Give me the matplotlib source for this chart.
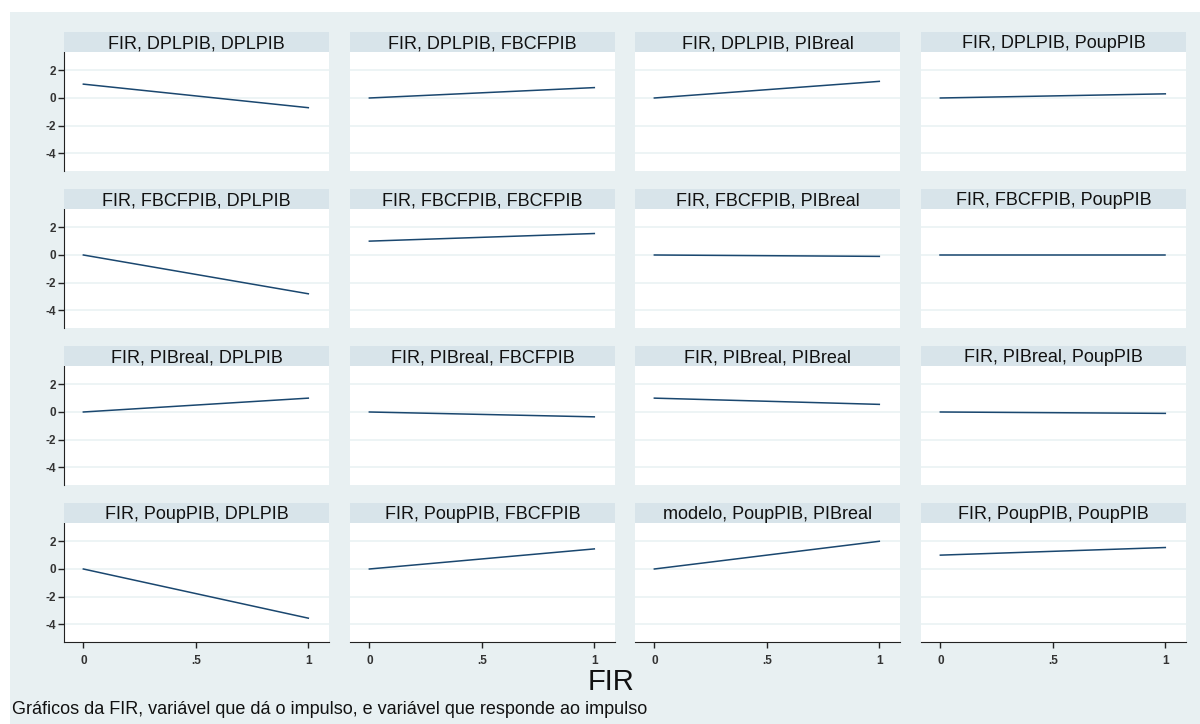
import matplotlib.pyplot as plt
from matplotlib.patches import Rectangle

plt.rcParams['font.family'] = ['Liberation Sans', 'DejaVu Sans']

# variables in the VAR, order used for rows (impulse) and columns (response)
variables = ["DPLPIB", "FBCFPIB", "PIBreal", "PoupPIB"]
steps = [0, 1]

# impulse responses at step 0 and step 1, one row per impulse variable
irf_dplpib = [[1.0, -0.7], [0.0, 0.75], [0.0, 1.2], [0.0, 0.3]]
irf_fbcfpib = [[0.0, -2.8], [1.0, 1.55], [0.0, -0.1], [0.0, 0.0]]
irf_pibreal = [[0.0, 1.0], [0.0, -0.35], [1.0, 0.55], [0.0, -0.1]]
irf_poupppib = [[0.0, -3.55], [0.0, 1.45], [0.0, 2.0], [1.0, 1.55]]
responses = [irf_dplpib, irf_fbcfpib, irf_pibreal, irf_poupppib]

# panel names; one graph was saved under a different irf name
irfnames = [["FIR"] * 4 for _ in range(4)]
irfnames[3][2] = "modelo"

yticks = [2, 0, -2, -4]
yticklabels = ["2", "0", "-2", "-4"]
xticks = [0, 0.5, 1]
xticklabels = ["0", ".5", "1"]

W, H = 1200, 724
bg = "#e8f0f2"
strip = "#d8e4ea"
line_col = "#1a476f"

fig = plt.figure(figsize=(W / 100, H / 100), dpi=100)
fig.patch.set_facecolor("white")
fig.patches.append(Rectangle((10 / W, 0), 1 - 10 / W, 1 - 12 / H,
                             transform=fig.transFigure, facecolor=bg,
                             edgecolor="none", zorder=-10))

col_left = [64, 350, 635, 921]
row_top = [52, 209, 366, 523]
pw, ph, sh = 265, 119, 20

for i in range(4):
    for j in range(4):
        x0, y0 = col_left[j], row_top[i]
        ax = fig.add_axes([x0 / W, 1 - (y0 + ph) / H, pw / W, ph / H])
        ax.set_facecolor("white")
        ax.plot(steps, responses[i][j], color=line_col, lw=1.1)
        ax.set_xlim(-0.086, 1.092)
        ax.set_ylim(-5.27, 3.32)
        ax.set_yticks(yticks)
        ax.set_xticks(xticks)
        for y in yticks:
            ax.axhline(y, color="#eaf2f3", lw=1.2, zorder=0)
        for s in ax.spines.values():
            s.set_visible(False)
        if j == 0:
            ax.spines["left"].set_visible(True)
            ax.spines["left"].set_color("#222222")
            ax.set_yticklabels(yticklabels, fontsize=8.5, fontweight="bold", color="#333333")
            ax.tick_params(axis="y", length=4, width=1, color="#222222", pad=2)
        else:
            ax.tick_params(axis="y", left=False, labelleft=False)
        if i == 3:
            ax.spines["bottom"].set_visible(True)
            ax.spines["bottom"].set_color("#222222")
            ax.set_xticklabels(xticklabels, fontsize=8.5, fontweight="bold", color="#333333")
            ax.tick_params(axis="x", length=4, width=1, color="#222222", pad=5)
        else:
            ax.tick_params(axis="x", bottom=False, labelbottom=False)

        # title strip above each panel
        sax = fig.add_axes([x0 / W, 1 - y0 / H, pw / W, sh / H])
        sax.set_facecolor(strip)
        sax.set_xticks([])
        sax.set_yticks([])
        for s in sax.spines.values():
            s.set_visible(False)
        sax.text(0.5, 0.42, f"{irfnames[i][j]}, {variables[i]}, {variables[j]}",
                 ha="center", va="center", fontsize=13, color="#111111",
                 transform=sax.transAxes)

fig.text(611 / W, 1 - 682 / H, "FIR", ha="center", va="center", fontsize=21, color="#111111")
fig.text(12 / W, 1 - 710 / H,
         "Gráficos da FIR, variável que dá o impulso, e variável que responde ao impulso",
         ha="left", va="center", fontsize=13, color="#111111")

fig.savefig("out.png", dpi=100)
